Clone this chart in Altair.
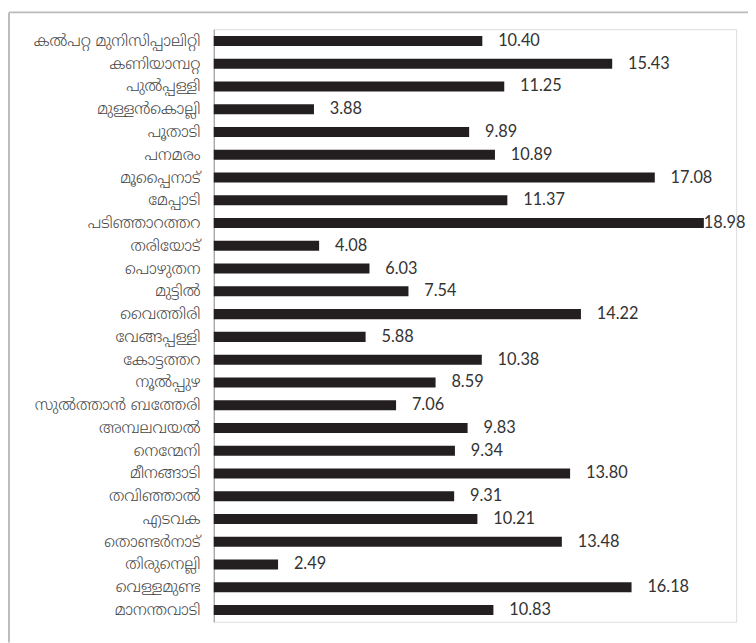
import altair as alt
import pandas as pd

places = [
    "കൽപറ്റ മുനിസിപ്പാലിറ്റി", "കണിയാമ്പറ്റ", "പുൽപ്പള്ളി", "മുള്ളൻകൊല്ലി", "പൂതാടി",
    "പനമരം", "മൂപ്പൈനാട്", "മേപ്പാടി", "പടിഞ്ഞാറത്തറ", "തരിയോട്", "പൊഴുതന",
    "മുട്ടിൽ", "വൈത്തിരി", "വേങ്ങപ്പള്ളി", "കോട്ടത്തറ", "നൂൽപ്പുഴ", "സുൽത്താൻ ബത്തേരി",
    "അമ്പലവയൽ", "നെന്മേനി", "മീനങ്ങാടി", "തവിഞ്ഞാൽ", "എടവക", "തൊണ്ടർനാട്",
    "തിരുനെല്ലി", "വെള്ളമുണ്ട", "മാനന്തവാടി",
]
values = [
    10.40, 15.43, 11.25, 3.88, 9.89, 10.89, 17.08, 11.37, 18.98, 4.08, 6.03,
    7.54, 14.22, 5.88, 10.38, 8.59, 7.06, 9.83, 9.34, 13.80, 9.31, 10.21,
    13.48, 2.49, 16.18, 10.83,
]

df = pd.DataFrame({"place": places, "v": values})

W, H = 528, 599
xscale = alt.Scale(domain=[0, 20.23], nice=False, zero=True)
yenc = alt.Y("place:N", sort=None,
             scale=alt.Scale(paddingInner=0.56, paddingOuter=0.3),
             axis=alt.Axis(title=None, ticks=False, domainColor="#a0a0a0", domainWidth=1.2,
                           labelPadding=14, labelFontSize=15.8, labelFontWeight=300,
                           labelColor="#444444",
                           labelFont="Noto Sans Malayalam, Noto Sans, sans-serif",
                           labelLimit=300))

base = alt.Chart(df)

bars = base.mark_bar(color="#231f20").encode(
    x=alt.X("v:Q", scale=xscale, axis=None),
    y=yenc,
)

labels = base.transform_calculate(
    lx="datum.v > 18.5 ? datum.v : datum.v + 0.613",
    txt="format(datum.v, '.2f')",
).mark_text(align="left", baseline="middle", font="Lato", fontSize=16.5, color="#333333").encode(
    x=alt.X("lx:Q", scale=xscale, axis=None),
    y=alt.Y("place:N", sort=None),
    text="txt:N",
)

frame_left = alt.Chart(pd.DataFrame({"k": [0]})).mark_rule(color="#bcbcbc", strokeWidth=2).encode(
    x=alt.value(-207), y=alt.value(-17), y2=alt.value(620)
)
frame_top = alt.Chart(pd.DataFrame({"k": [0]})).mark_rule(color="#bcbcbc", strokeWidth=2).encode(
    x=alt.value(-207), x2=alt.value(540), y=alt.value(-17)
)

chart = alt.layer(frame_left, frame_top, bars, labels).properties(
    width=W, height=H,
    autosize=alt.AutoSizeParams(type="none"),
    padding={"left": 208, "top": 18, "right": 12, "bottom": 18},
).configure_view(stroke=None).configure(background="white")

chart.save("out.html", embed_options={"renderer": "svg", "actions": False})
